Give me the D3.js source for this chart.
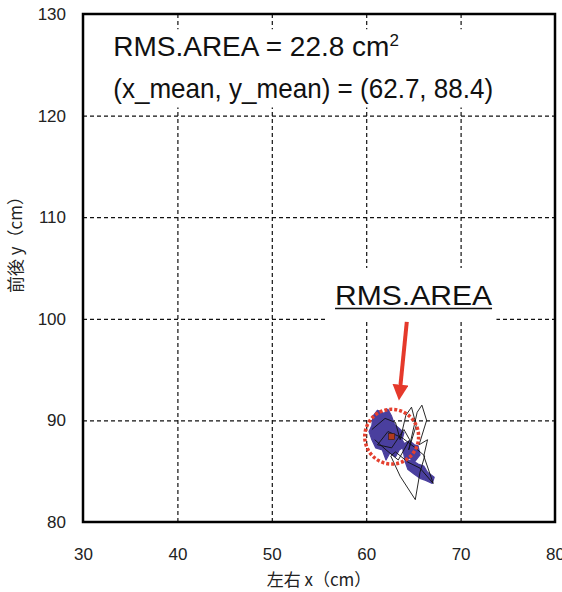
<!DOCTYPE html>
<html>
<head>
<meta charset="utf-8">
<script src="https://cdn.jsdelivr.net/npm/d3@7"></script>
<style>
  body { margin: 0; background: #fff; }
  svg { display: block; }
</style>
</head>
<body>
<div id="chart"></div>
<script>
// axis ticks
let x_ticks = [30, 40, 50, 60, 70, 80];
let y_ticks = [80, 90, 100, 110, 120, 130];

// summary values
let rms_area = 22.8;          // cm^2
let x_mean = 62.7, y_mean = 88.4;

// sway path (cm)
let path_x = [60.6, 62.0, 63.1, 63.6, 64.2, 64.8, 65.3, 64.5, 65.4, 65.9, 66.4, 65.6, 66.5, 66.1, 67.1, 65.7, 64.4,
              63.1, 62.6, 63.6, 65.2, 65.7, 66.2, 65.2, 63.8, 62.3, 61.2, 62.7, 64.0, 64.6, 63.4, 62.1, 60.9];
let path_y = [89.1, 90.2, 89.8, 88.1, 90.5, 91.3, 89.5, 87.1, 90.8, 91.5, 90.0, 87.6, 88.1, 86.5, 83.8, 85.3, 85.9,
              86.9, 86.5, 84.5, 82.2, 84.9, 86.5, 87.3, 88.3, 88.9, 87.6, 87.3, 89.1, 88.1, 86.1, 87.1, 88.1];

// dense parts of the path (filled blue)
let blob_1_x = [60.7, 61.2, 61.9, 62.3, 62.7, 63.0, 63.5, 64.0, 63.8, 64.2, 63.5, 63.1, 62.5, 62.1, 61.7, 61.0, 60.6, 60.3, 60.6];
let blob_1_y = [90.4, 91.0, 90.7, 91.1, 90.4, 89.6, 89.2, 88.8, 88.1, 87.5, 87.1, 86.4, 86.8, 86.1, 87.1, 87.3, 88.1, 88.9, 89.5];
let blob_2_x = [63.8, 64.6, 65.1, 65.5, 65.7, 65.1, 64.6, 64.1];
let blob_2_y = [87.6, 88.0, 87.6, 87.5, 86.6, 85.9, 86.3, 86.1];
let blob_3_x = [64.1, 64.8, 65.5, 66.1, 66.5, 67.2, 67.0, 66.3, 65.7, 65.1, 64.4];
let blob_3_y = [86.0, 86.1, 85.7, 85.5, 84.9, 84.4, 83.8, 84.1, 84.3, 84.7, 85.2];

let margin = {top: 14, right: 7, bottom: 70, left: 83};
let width = 562 - margin.left - margin.right,
    height = 592 - margin.top - margin.bottom;

let svg = d3.select("#chart")
    .append("svg")
    .attr("width", 562)
    .attr("height", 592)
    .append("g")
    .attr("transform", "translate(" + margin.left + "," + margin.top + ")");

let x = d3.scaleLinear().domain([30, 80]).range([0, width]);
let y = d3.scaleLinear().domain([80, 130]).range([height, 0]);

// dashed grid
svg.append("g")
    .attr("class", "grid")
    .attr("transform", "translate(0," + height + ")")
    .call(d3.axisBottom(x).tickValues(x_ticks.slice(1, -1)).tickSize(-height).tickFormat(""))
    .call(g => g.select(".domain").remove());

svg.append("g")
    .attr("class", "grid")
    .call(d3.axisLeft(y).tickValues(y_ticks.slice(1, -1)).tickSize(-width).tickFormat(""))
    .call(g => g.select(".domain").remove());

svg.selectAll(".grid line")
    .attr("stroke", "#111")
    .attr("stroke-width", 1.2)
    .attr("stroke-dasharray", "4,3");

// tick labels
let x_axis = svg.append("g")
    .attr("transform", "translate(0," + height + ")")
    .call(d3.axisBottom(x).tickValues(x_ticks).tickSize(0).tickPadding(26));
x_axis.select(".domain").remove();

let y_axis = svg.append("g")
    .call(d3.axisLeft(y).tickValues(y_ticks).tickSize(0).tickPadding(17));
y_axis.select(".domain").remove();

svg.selectAll(".tick text")
    .style("font-family", "Liberation Sans")
    .style("font-size", "17px")
    .attr("fill", "#222");

// white boxes behind the annotations
svg.append("rect")
    .attr("x", x(32.3)).attr("y", y(128.5))
    .attr("width", x(74.5) - x(32.3)).attr("height", y(120.8) - y(128.5))
    .attr("fill", "#fff");

svg.append("rect")
    .attr("x", x(55.7)).attr("y", y(105))
    .attr("width", x(73.8) - x(55.7)).attr("height", y(99.8) - y(105))
    .attr("fill", "#fff");

// blue blobs
let blob_line = d3.line()
    .x(d => x(d[0]))
    .y(d => y(d[1]))
    .curve(d3.curveLinearClosed);

let blobs = [
    d3.zip(blob_1_x, blob_1_y),
    d3.zip(blob_2_x, blob_2_y),
    d3.zip(blob_3_x, blob_3_y)
];

svg.selectAll(".blob")
    .data(blobs)
    .enter().append("path")
    .attr("class", "blob")
    .attr("d", blob_line)
    .attr("fill", "#4a3f9e")
    .attr("stroke", "#4a3f9e")
    .attr("stroke-width", 1.2)
    .attr("stroke-linejoin", "round");

// sway path
let sway_line = d3.line()
    .x(d => x(d[0]))
    .y(d => y(d[1]));

svg.append("path")
    .datum(d3.zip(path_x, path_y))
    .attr("d", sway_line)
    .attr("fill", "none")
    .attr("stroke", "#111")
    .attr("stroke-width", 0.9)
    .attr("stroke-linejoin", "round");

// RMS circle
let rms_r = Math.sqrt(rms_area / Math.PI);
svg.append("ellipse")
    .attr("cx", x(x_mean))
    .attr("cy", y(y_mean))
    .attr("rx", x(x_mean + rms_r) - x(x_mean) + 1.5)
    .attr("ry", y(y_mean) - y(y_mean + rms_r))
    .attr("fill", "none")
    .attr("stroke", "#e4402f")
    .attr("stroke-width", 3.5)
    .attr("stroke-dasharray", "3,2");

svg.append("rect")
    .attr("x", x(x_mean) - 3)
    .attr("y", y(y_mean) - 3)
    .attr("width", 6)
    .attr("height", 6)
    .attr("fill", "#b23a1e")
    .attr("stroke", "#3a1a10")
    .attr("stroke-width", 0.6);

// arrow
svg.append("defs").append("marker")
    .attr("id", "head")
    .attr("viewBox", "0 0 10 10")
    .attr("refX", 2).attr("refY", 5)
    .attr("markerWidth", 4).attr("markerHeight", 4)
    .attr("orient", "auto")
    .append("path")
    .attr("d", "M0,0 L10,5 L0,10 Z")
    .attr("fill", "#e5392b");

svg.append("line")
    .attr("x1", x(64.3)).attr("y1", y(99.7))
    .attr("x2", x(63.6)).attr("y2", y(93.2))
    .attr("stroke", "#e5392b")
    .attr("stroke-width", 4)
    .attr("marker-end", "url(#head)");

// frame
svg.append("rect")
    .attr("width", width)
    .attr("height", height)
    .attr("fill", "none")
    .attr("stroke", "#000")
    .attr("stroke-width", 2.5);

// annotations
let top_text = svg.append("text")
    .attr("x", x(33.2))
    .attr("y", y(125.9))
    .style("font-family", "Liberation Sans")
    .style("font-size", "28px")
    .attr("fill", "#111");
top_text.append("tspan").text("RMS.AREA = 22.8 cm");
top_text.append("tspan")
    .attr("dy", -10)
    .style("font-size", "17px")
    .text("2");

svg.append("text")
    .attr("x", x(33.2))
    .attr("y", y(121.7))
    .attr("textLength", 380)
    .attr("lengthAdjust", "spacingAndGlyphs")
    .style("font-family", "Liberation Sans")
    .style("font-size", "28px")
    .attr("fill", "#111")
    .text("(x_mean, y_mean) = (62.7, 88.4)");

svg.append("text")
    .attr("x", x(56.7))
    .attr("y", y(101.4))
    .attr("textLength", 157)
    .attr("lengthAdjust", "spacingAndGlyphs")
    .style("font-family", "Liberation Sans")
    .style("font-size", "28px")
    .attr("fill", "#111")
    .text("RMS.AREA");

svg.append("line")
    .attr("x1", x(56.7)).attr("x2", x(56.7) + 157)
    .attr("y1", y(101.4) + 4).attr("y2", y(101.4) + 4)
    .attr("stroke", "#111")
    .attr("stroke-width", 1.5);

// axis titles
svg.append("text")
    .attr("x", width / 2)
    .attr("y", height + 64)
    .style("text-anchor", "middle")
    .style("font-family", "Noto Sans CJK JP")
    .style("font-size", "17px")
    .attr("fill", "#222")
    .text("左右 x（cm）");

svg.append("text")
    .attr("transform", "translate(" + (-61) + "," + (y(107.7)) + ") rotate(-90)")
    .style("text-anchor", "middle")
    .style("font-family", "Noto Sans CJK JP")
    .style("font-size", "17px")
    .attr("fill", "#222")
    .text("前後 y（cm）");
</script>
</body>
</html>
